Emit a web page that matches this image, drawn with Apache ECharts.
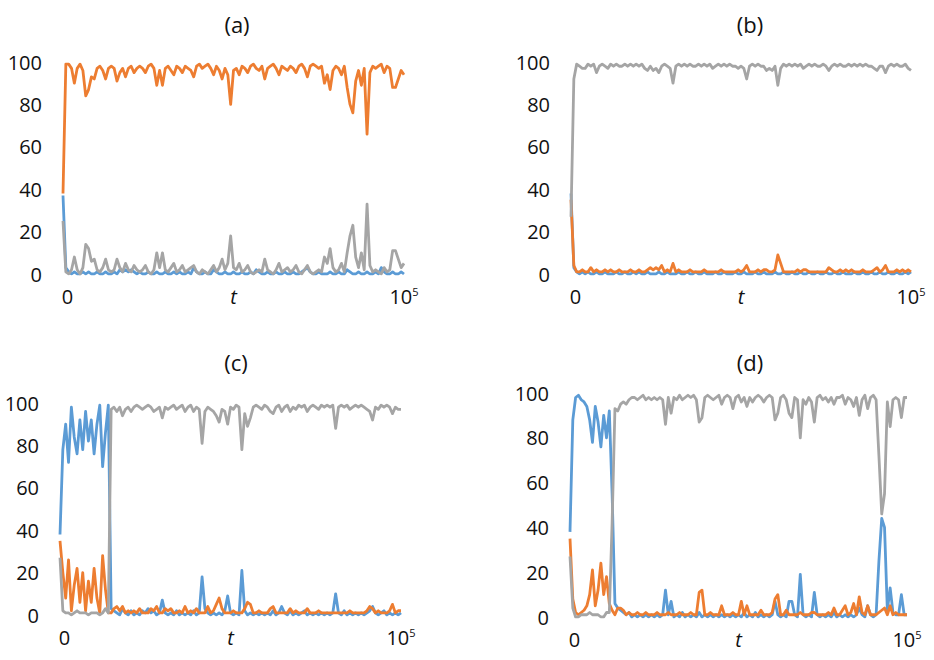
<!DOCTYPE html>
<html><head><meta charset="utf-8">
<script src="https://cdn.jsdelivr.net/npm/echarts@6/dist/echarts.min.js"></script>
<style>html,body{margin:0;padding:0;background:#fff}#c{width:934px;height:660px}</style>
</head><body><div id="c"></div>
<script>
// ---------- data ----------
const panelTitles = ['(a)', '(b)', '(c)', '(d)'];
const xTickLabels = ['0', 't', '10^5'];
const tMax = 100000;
const yMin = 0, yMax = 100, yStep = 20;

const aBlue = [37,3,1,0,1,0,0,1,0,1, 0,0,1,0,0,1,0,0,1,0, 2,1,2,1,2,1,0,1,0,0, 1,0,0,1,0,0,1,0,0,1,
  0,1,0,0,1,0,3,1,0,0, 1,0,0,2,1,0,0,1,0,0, 1,0,0,1,0,0,1,0,2,1, 0,0,1,0,0,1,0,0,1,0,
  0,1,0,0,1,2,3,1,0,0, 1,0,0,0,1,0,0,1,0,0, 2,1,0,0,1,0,0,1,0,0, 1,0,3,1,0,0,1,0,0,1, 0];
const aOrange = [38,99,99,97,90,97,99,96,84,87, 93,92,97,98,96,92,97,98,97,91, 95,97,93,97,98,95,97,98,97,95,
  98,99,97,89,96,89,97,98,96,94, 98,97,95,98,97,96,93,98,99,97, 98,99,97,94,98,96,92,97,94,80,
  96,97,94,98,97,95,98,99,97,96, 98,92,97,98,99,97,94,98,97,96, 98,97,95,98,99,97,93,98,99,98,
  97,98,90,94,87,96,98,97,94,98, 88,80,76,91,96,89,97,66,95,98, 97,98,99,95,98,97,88,88,92,96, 94];
const aGray = [25,1,0,2,8,2,0,3,14,12, 6,7,2,1,3,7,2,1,2,7, 3,1,5,2,1,4,2,1,2,4, 1,0,2,10,3,10,2,1,3,5,
  1,2,4,1,2,3,4,1,0,2, 1,0,2,4,1,3,7,2,5,18, 3,2,5,1,2,4,1,0,1,2, 1,7,2,1,0,2,5,1,2,3,
  1,2,4,1,0,2,4,1,0,1, 2,1,8,5,12,3,1,2,5,1, 10,18,23,8,3,10,2,33,4,1, 2,1,0,3,1,2,11,11,7,3, 5];

const bBlue = [38,3,1,0,1,0,1,0,0,1, 0,0,1,0,0,0,1,0,0,1, 0,0,1,0,1,0,0,1,0,0, 0,1,0,0,1,0,0,0,1,0,
  0,1,0,0,1,0,0,1,0,0, 0,1,0,0,1,0,0,0,1,0, 0,1,0,0,0,1,0,0,1,0, 0,0,1,0,0,1,0,0,1,0,
  0,1,0,0,1,0,0,1,0,0, 1,0,0,1,0,0,1,0,0,0, 1,0,0,1,0,0,1,0,0,1, 0,0,1,0,0,1,0,0,1,0, 1];
const bOrange = [35,4,1,1,2,1,1,3,1,2, 1,1,2,1,2,1,1,2,1,1, 1,2,1,1,2,1,1,2,3,2, 3,2,4,1,2,1,5,1,2,1,
  1,1,2,1,1,1,1,2,1,1, 1,1,1,2,1,1,1,1,1,2, 1,2,4,1,1,1,2,1,2,2, 1,1,2,9,5,1,1,1,1,1,
  2,1,2,2,1,1,1,1,1,1, 1,3,2,1,1,2,1,2,1,2, 1,1,1,2,1,1,1,2,3,1, 2,4,1,1,1,2,1,2,1,2, 1];
const bGray = [27,92,99,98,97,97,99,98,99,95, 98,99,98,97,99,98,99,98,98,99, 98,99,98,99,98,99,97,96,98,96,
  97,95,98,99,98,97,90,98,99,98, 99,98,99,98,98,99,98,99,98,99, 97,98,99,98,99,98,99,98,98,97,
  98,97,92,98,99,98,99,98,98,96, 97,96,98,89,97,99,98,99,98,99, 98,99,97,98,99,98,99,98,98,99,
  98,96,98,99,98,99,98,98,99,98, 99,98,99,98,99,98,98,97,96,98, 98,95,98,99,98,99,98,98,99,97, 96];

const cBlue = [38,78,90,72,98,84,76,92,78,96, 82,92,76,90,99,70,86,99,3,2, 1,0,3,1,0,2,0,1,0,2, 1,3,1,2,0,1,7,1,0,1,
  0,2,0,1,0,1,0,2,0,1, 18,3,1,0,1,0,1,0,2,9, 1,0,1,0,21,2,0,1,0,1, 0,1,0,1,0,2,0,1,4,1,
  0,2,0,1,0,1,2,0,1,0, 1,0,1,0,1,0,1,10,1,0, 2,0,1,0,1,0,1,0,1,2, 4,1,0,1,2,0,1,0,1,0, 1];
const cOrange = [35,20,8,26,2,14,22,6,20,2, 16,6,22,8,1,28,12,1,1,3, 4,2,4,1,2,1,2,1,3,1, 1,1,3,2,4,1,1,3,2,3,
  1,1,2,1,4,1,2,1,3,1, 1,1,4,1,2,5,8,3,1,1, 1,2,1,1,1,3,6,5,1,1, 2,1,1,1,3,4,1,1,1,1,
  1,3,1,2,1,1,1,3,1,1, 1,2,1,1,1,1,1,1,1,1, 1,1,2,1,1,1,1,1,2,4, 3,1,2,1,1,1,2,5,1,2, 2];
const cGray = [27,2,1,1,0,1,2,1,1,1, 0,1,1,1,0,1,3,1,97,98, 96,98,94,97,98,96,98,99,98,97, 98,99,98,96,97,98,93,98,97,98,
  99,97,98,99,96,98,99,96,98,97, 81,96,98,97,96,94,91,97,96,90, 98,97,99,98,78,95,89,93,98,99,
  98,97,99,98,96,95,98,99,96,98, 99,96,98,97,99,98,99,96,98,99, 98,97,99,98,99,98,99,88,98,99,
  98,99,97,98,99,98,99,98,97,96, 92,98,97,99,98,99,98,95,98,97, 97];

const dBlue = [38,88,98,99,97,96,94,88,78,94, 87,76,90,80,92,55,6,4,3,2, 1,2,0,1,0,1,0,1,0,1, 0,1,0,1,12,1,7,0,1,0,
  2,0,1,0,1,0,2,0,1,0, 1,0,1,0,1,0,1,0,1,0, 1,0,2,0,1,0,2,0,1,0, 1,0,1,7,1,0,1,0,7,7,
  1,0,19,1,0,1,0,11,1,0, 1,0,1,0,2,0,1,0,1,0, 1,0,1,4,1,0,5,1,0,1, 25,44,40,3,13,2,1,1,10,1, 1];
const dOrange = [35,8,2,1,2,3,5,10,21,5, 12,24,10,18,6,3,1,4,4,3, 1,2,1,1,2,1,1,2,1,1, 1,2,1,1,1,2,1,1,1,2,
  1,1,1,2,1,1,11,12,1,1, 2,1,1,1,5,1,1,1,2,1, 1,7,1,5,1,1,1,1,3,1, 1,1,2,8,10,1,1,3,1,1,
  1,1,2,1,1,1,2,2,1,1, 1,1,2,1,4,1,1,3,5,1, 2,6,1,9,2,1,5,1,1,1, 2,3,4,1,5,1,2,1,1,1, 1];
const dGray = [27,4,0,0,1,1,1,2,1,1, 1,0,0,2,2,42,93,92,95,96, 95,97,98,98,97,98,99,97,98,97, 98,97,98,97,86,98,91,98,97,99,
  97,98,99,98,99,97,87,89,98,99, 98,97,98,99,95,98,99,98,93,98, 99,96,98,94,98,96,98,99,98,96,
  98,99,98,88,91,98,99,97,91,89, 98,97,80,97,95,98,96,87,98,99, 97,98,96,98,95,98,98,99,95,98,
  97,94,98,90,97,99,93,98,99,97, 72,46,55,96,85,97,98,97,89,98, 98];

// ---------- layout / style ----------
const panels = [
  { title: panelTitles[0], series: [aBlue, aOrange, aGray] },
  { title: panelTitles[1], series: [bBlue, bOrange, bGray] },
  { title: panelTitles[2], series: [cBlue, cOrange, cGray] },
  { title: panelTitles[3], series: [dBlue, dOrange, dGray] }
];
const grids = [
  { left: 63, top: 62, width: 341, height: 212 },
  { left: 571, top: 62, width: 340, height: 212 },
  { left: 60, top: 403, width: 341, height: 212 },
  { left: 570, top: 393, width: 337, height: 224 }
];
const titlePos = [[237, 24], [750, 24], [236, 362], [750, 362]];
const colors = ['#5B9BD5', '#ED7D31', '#A5A5A5'];
const FONT = 'Open Sans';
const TXT = '#111111';

function toPoints(arr) {
  const n = arr.length - 1;
  return arr.map((v, i) => [i * tMax / n, v]);
}

const option = {
  animation: false,
  textStyle: { fontFamily: FONT },
  grid: grids.map(g => Object.assign({ containLabel: false }, g)),
  xAxis: grids.map((g, k) => ({
    gridIndex: k, type: 'value', min: 0, max: tMax, interval: tMax / 2,
    axisLine: { show: false }, axisTick: { show: false }, splitLine: { show: false },
    axisLabel: {
      margin: 12, fontSize: 20, fontFamily: FONT, color: TXT,
      showMinLabel: true, showMaxLabel: true,
      formatter: function (v) {
        const s = xTickLabels[Math.round(v / (tMax / 2))];
        if (s === 't') return '{it|t}';
        if (s.indexOf('^') >= 0) { const p = s.split('^'); return '{b|' + p[0] + '}{sup|' + p[1] + '}'; }
        return '{z|' + s + '}';
      },
      rich: {
        it: { fontStyle: 'italic', fontSize: 20, fontFamily: FONT, color: TXT },
        b: { fontSize: 20, fontFamily: FONT, color: TXT },
        sup: { fontSize: 11, fontFamily: FONT, color: TXT, verticalAlign: 'top' },
        z: { fontSize: 20, fontFamily: FONT, color: TXT, padding: [0, 0, 0, 9] }
      }
    }
  })),
  yAxis: grids.map((g, k) => ({
    gridIndex: k, type: 'value', min: yMin, max: yMax, interval: yStep,
    axisLine: { show: false }, axisTick: { show: false }, splitLine: { show: false },
    axisLabel: { margin: 21, fontSize: 20, fontFamily: FONT, color: TXT }
  })),
  series: [],
  graphic: panels.map((p, k) => ({
    type: 'text', x: titlePos[k][0], y: titlePos[k][1],
    style: {
      text: p.title, font: '22px "' + FONT + '"', fill: TXT,
      align: 'center', verticalAlign: 'middle', textAlign: 'center', textVerticalAlign: 'middle'
    }
  }))
};

panels.forEach((p, k) => {
  p.series.forEach((arr, s) => {
    option.series.push({
      type: 'line', xAxisIndex: k, yAxisIndex: k,
      data: toPoints(arr), showSymbol: false, symbol: 'none',
      lineStyle: { color: colors[s], width: 2.8, join: 'round' },
      itemStyle: { color: colors[s] },
      emphasis: { disabled: true }
    });
  });
});

const chart = echarts.init(document.getElementById('c'), null, { renderer: 'svg' });
chart.setOption(option);
</script>
</body></html>
